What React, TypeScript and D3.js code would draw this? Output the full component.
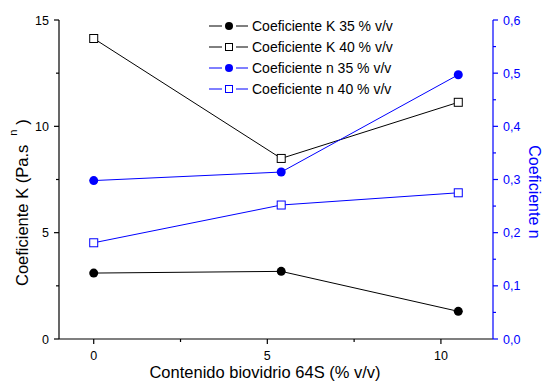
import React from "react";
import * as d3 from "d3";

const xValues = [0, 5.4, 10.5];
const k35 = [3.1, 3.18, 1.3];
const k40 = [14.13, 8.49, 11.13];
const n35 = [0.298, 0.314, 0.497];
const n40 = [0.181, 0.252, 0.275];

const xTicks = [0, 5, 10];
const xMinor = [2.5, 7.5];
const kTicks = [0, 5, 10, 15];
const kMinor = [2.5, 7.5, 12.5];
const nTicks = [0, 0.1, 0.2, 0.3, 0.4, 0.5, 0.6];
const nMinor = [0.05, 0.15, 0.25, 0.35, 0.45, 0.55];

const legendLabels = [
  "Coeficiente K 35 % v/v",
  "Coeficiente K 40 % v/v",
  "Coeficiente n 35 % v/v",
  "Coeficiente n 40 % v/v",
];

const BLUE = "#0000ff";
const FONT = "'Liberation Sans', Arial, sans-serif";

export default function App() {
  const W = 544, H = 381;
  const left = 59, right = 493, top = 20, bottom = 339;
  const x = d3.scaleLinear().domain([-1, 11.5]).range([left, right]);
  const yK = d3.scaleLinear().domain([0, 15]).range([bottom, top]);
  const yN = d3.scaleLinear().domain([0, 0.6]).range([bottom, top]);

  const lineK = d3.line<number>().x((_, i) => x(xValues[i])).y((d) => yK(d));
  const lineN = d3.line<number>().x((_, i) => x(xValues[i])).y((d) => yN(d));

  const series = [
    { data: k35, path: lineK, y: yK, color: "#000", marker: "circle" },
    { data: k40, path: lineK, y: yK, color: "#000", marker: "square" },
    { data: n35, path: lineN, y: yN, color: BLUE, marker: "circle" },
    { data: n40, path: lineN, y: yN, color: BLUE, marker: "square" },
  ];

  const marker = (kind: string, color: string, cx: number, cy: number, key: any, small = false) => {
    if (kind === "circle") {
      return <circle key={key} cx={cx} cy={cy} r={small ? 4 : 4.5} fill={color} />;
    }
    const s = small ? 7 : 8;
    return (
      <rect key={key} x={cx - s / 2} y={cy - s / 2} width={s} height={s} fill="#fff" stroke={color} strokeWidth={1} />
    );
  };

  const legendY = [26, 47, 68, 89];

  return (
    <svg width={W} height={H} style={{ position: "absolute", left: 0, top: 0, background: "#fff" }} fontFamily={FONT}>
      <rect x={0} y={0} width={W} height={H} fill="#fff" />
      {series.map((s, i) => (
        <path key={"l" + i} d={s.path(s.data) || ""} fill="none" stroke={s.color} strokeWidth={1} />
      ))}
      {series.map((s, i) =>
        s.data.map((d, j) => marker(s.marker, s.color, x(xValues[j]), s.y(d), "m" + i + "-" + j))
      )}

      {/* bottom axis */}
      <line x1={left} x2={right} y1={bottom} y2={bottom} stroke="#000" strokeWidth={1.2} />
      {xTicks.map((t) => (
        <g key={"xt" + t}>
          <line x1={x(t)} x2={x(t)} y1={bottom} y2={bottom + 5} stroke="#000" strokeWidth={1.2} />
          <text x={x(t)} y={360} fontSize={12.5} textAnchor="middle" fill="#000">{t}</text>
        </g>
      ))}
      {xMinor.map((t) => (
        <line key={"xm" + t} x1={x(t)} x2={x(t)} y1={bottom} y2={bottom + 3} stroke="#000" strokeWidth={1.2} />
      ))}
      <text x={265} y={378} fontSize={16.5} textAnchor="middle" fill="#000">Contenido biovidrio 64S (% v/v)</text>

      {/* left axis */}
      <line x1={left} x2={left} y1={top} y2={bottom} stroke="#000" strokeWidth={1.2} />
      {kTicks.map((t) => (
        <g key={"kt" + t}>
          <line x1={left - 5} x2={left} y1={yK(t)} y2={yK(t)} stroke="#000" strokeWidth={1.2} />
          <text x={49} y={yK(t) + 4.5} fontSize={12.5} textAnchor="end" fill="#000">{t}</text>
        </g>
      ))}
      {kMinor.map((t) => (
        <line key={"km" + t} x1={left - 3} x2={left} y1={yK(t)} y2={yK(t)} stroke="#000" strokeWidth={1.2} />
      ))}
      <text transform="translate(28,286) rotate(-90)" fontSize={16.5} textAnchor="start" fill="#000">
        Coeficiente K (Pa.s
        <tspan dx={9} dy={-11} fontSize={11}>n</tspan>
        <tspan dx={5} dy={11}>)</tspan>
      </text>

      {/* right axis */}
      <line x1={right} x2={right} y1={top} y2={bottom} stroke={BLUE} strokeWidth={1.2} />
      {nTicks.map((t) => (
        <g key={"nt" + t}>
          <line x1={right} x2={right + 5} y1={yN(t)} y2={yN(t)} stroke={BLUE} strokeWidth={1.2} />
          <text x={503} y={yN(t) + 4.5} fontSize={12.5} textAnchor="start" fill={BLUE}>
            {d3.format(".1f")(t).replace(".", ",")}
          </text>
        </g>
      ))}
      {nMinor.map((t) => (
        <line key={"nm" + t} x1={right} x2={right + 3} y1={yN(t)} y2={yN(t)} stroke={BLUE} strokeWidth={1.2} />
      ))}
      <text transform="translate(529,192) rotate(90)" fontSize={16} textAnchor="middle" fill={BLUE}>Coeficiente n</text>

      {/* legend */}
      {series.map((s, i) => (
        <g key={"lg" + i}>
          <line x1={209} x2={248} y1={legendY[i]} y2={legendY[i]} stroke={s.color} strokeWidth={1} />
          <rect x={222} y={legendY[i] - 6} width={14} height={12} fill="#fff" />
          {marker(s.marker, s.color, 229, legendY[i], "lm" + i, true)}
          <text x={252} y={legendY[i] + 5} fontSize={14} fill="#000">{legendLabels[i]}</text>
        </g>
      ))}
    </svg>
  );
}
